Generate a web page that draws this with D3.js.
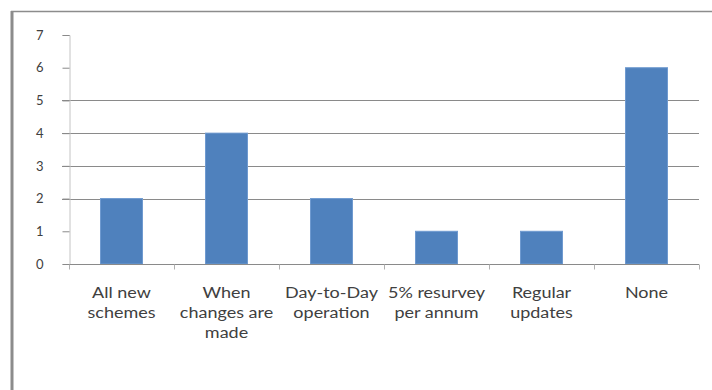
<!DOCTYPE html>
<html>
<head>
<meta charset="utf-8">
<script src="https://cdn.jsdelivr.net/npm/d3@7"></script>
<style>
  html, body { margin: 0; padding: 0; background: #fff; }
  svg { display: block; }
  text { font-family: "Lato", "Open Sans", sans-serif; fill: #404040; }
</style>
</head>
<body>
<svg id="chart" width="712" height="390"></svg>
<script>
// Survey responses: how often the data is updated
const categories = [
  ["All new", "schemes"],
  ["When", "changes are", "made"],
  ["Day-to-Day", "operation"],
  ["5% resurvey", "per annum"],
  ["Regular", "updates"],
  ["None"]
];
const values = [2, 4, 2, 1, 1, 6];
const yTicks = [0, 1, 2, 3, 4, 5, 6, 7];
const gridValues = [2, 3, 4, 5];

const svg = d3.select("#chart");
const margin = { left: 69, right: 13, top: 35, bottom: 126 };
const W = 712, H = 390;

const x = d3.scaleBand()
  .domain(d3.range(categories.length))
  .range([margin.left, W - margin.right])
  .paddingInner(0.6)
  .paddingOuter(0.3);

const y = d3.scaleLinear()
  .domain([0, 7])
  .range([H - margin.bottom, margin.top]);

// outer frame
svg.append("line").attr("x1", 12).attr("x2", 12).attr("y1", 11).attr("y2", H)
  .attr("stroke", "#8c8c8c").attr("stroke-width", 3);
svg.append("line").attr("x1", 11).attr("x2", W).attr("y1", 11.5).attr("y2", 11.5)
  .attr("stroke", "#8c8c8c").attr("stroke-width", 1.5);

// horizontal gridlines
svg.append("g").selectAll("line").data(gridValues).join("line")
  .attr("x1", margin.left - 7).attr("x2", W - margin.right)
  .attr("y1", d => Math.round(y(d)) + 0.5).attr("y2", d => Math.round(y(d)) + 0.5)
  .attr("stroke", "#8a8a8a").attr("stroke-width", 1.2);

// y axis
const yAxis = svg.append("g")
  .attr("transform", `translate(${margin.left + 0.5},0)`)
  .call(d3.axisLeft(y).tickValues(yTicks).tickSize(7).tickPadding(19).tickFormat(d3.format("d")));
yAxis.select(".domain").attr("stroke", "#c4c4c4");
yAxis.selectAll(".tick line").attr("stroke", "#8a8a8a");
yAxis.selectAll(".tick text").style("font-size", "13px").attr("fill", "#404040");

// bars
svg.append("g").selectAll("rect").data(values).join("rect")
  .attr("x", (d, i) => x(i))
  .attr("y", d => y(d))
  .attr("width", x.bandwidth())
  .attr("height", d => y(0) - y(d))
  .attr("fill", "#4f81bd")
  .attr("stroke", "#6f9ad0")
  .attr("stroke-width", 1);

// x axis
const step = x.step();
const xAxisG = svg.append("g").attr("transform", `translate(0,${Math.round(y(0)) + 0.5})`);
xAxisG.append("line").attr("x1", margin.left).attr("x2", W - margin.right)
  .attr("stroke", "#8a8a8a").attr("stroke-width", 1.2);
xAxisG.selectAll(".xt").data(d3.range(categories.length + 1)).join("line")
  .attr("class", "xt")
  .attr("x1", i => margin.left + i * step + 0.5).attr("x2", i => margin.left + i * step + 0.5)
  .attr("y1", 0).attr("y2", 5)
  .attr("stroke", "#b0b0b0");

// category labels
const labels = svg.append("g").selectAll("text").data(categories).join("text")
  .attr("text-anchor", "middle")
  .attr("transform", (d, i) => `translate(${x(i) + x.bandwidth() / 2},${y(0) + 34}) scale(1.2,1)`)
  .style("font-size", "15px");
labels.selectAll("tspan").data(d => d).join("tspan")
  .attr("x", 0)
  .attr("dy", (d, j) => j === 0 ? 0 : 20)
  .text(d => d);
</script>
</body>
</html>
